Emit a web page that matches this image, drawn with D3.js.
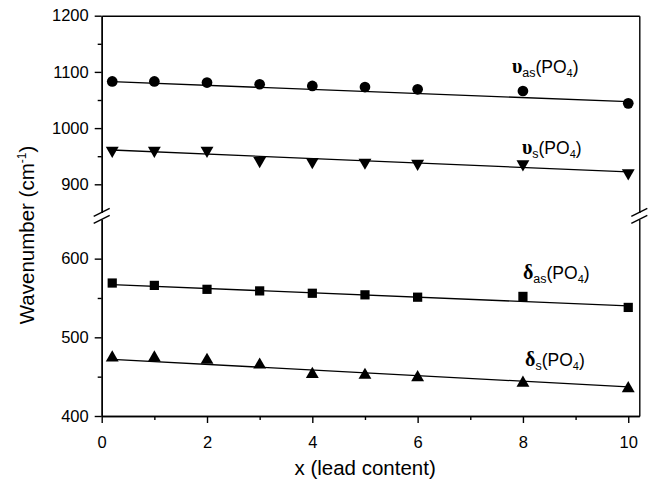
<!DOCTYPE html>
<html lang="en">
<head>
<meta charset="UTF-8">
<title>Wavenumber vs lead content</title>
<script src="https://d3js.org/d3.v7.min.js"></script>
<style>
  body { margin: 0; background: #fff; }
  svg text { font-family: "Liberation Sans", Arial, sans-serif; fill: #000; }
  .axis path, .axis line { stroke: #000; stroke-width: 1.4; }
</style>
</head>
<body>
<div id="chart"></div>
<script>
// lead content values (x)
var leadX = [0.2, 1, 2, 3, 4, 5, 6, 8, 10];

// band positions, cm-1
var nuAs = [1083, 1083, 1081, 1078, 1075, 1073, 1069, 1066, 1044];
var nuS = [960, 960, 960, 942, 940, 939, 937, 936, 920];
var deltaAs = [569, 566, 561, 559, 556, 554, 551, 552, 538];
var deltaS = [474, 474, 471, 465, 453, 452, 449, 442, 435];

// linear fit lines, value at x = 0.2 and x = 10
var fitStart = [1082.6, 961, 567, 472];
var fitEnd = [1047, 922, 540, 437];

var xTicks = [0, 2, 4, 6, 8, 10];
var xMinor = [1, 3, 5, 7, 9];
var yUpTicks = [900, 1000, 1100, 1200];
var yUpMinor = [950, 1050, 1150];
var yLoTicks = [400, 500, 600];
var yLoMinor = [450, 550];

var W = 652, H = 486;
var plotL = 101.7, plotR = 639.3, plotT = 15.7, plotB = 416;

var svg = d3.select("#chart").append("svg")
    .attr("width", W)
    .attr("height", H);

var x = d3.scaleLinear().domain([0, 10.21]).range([plotL, plotR]);
// broken y axis: two segments
var yUp = d3.scaleLinear().domain([850, 1200]).range([212.4, plotT]);
var yLo = d3.scaleLinear().domain([400, 650]).range([plotB, 219.3]);

function tickText(g) {
    g.selectAll("text")
        .style("font-size", "16.5px")
        .style("font-family", "'Liberation Sans', Arial, sans-serif");
}

// x axis
svg.append("g").attr("class", "axis")
    .attr("transform", "translate(0," + plotB + ")")
    .call(d3.axisBottom(x).tickValues(xTicks).tickSize(7).tickSizeOuter(0).tickPadding(13).tickFormat(d3.format("d")))
    .call(tickText);
svg.append("g").attr("class", "axis")
    .attr("transform", "translate(0," + plotB + ")")
    .call(d3.axisBottom(x).tickValues(xMinor).tickSize(4).tickSizeOuter(0).tickFormat(""));
svg.append("g").attr("class", "axis")
    .attr("transform", "translate(0," + plotT + ")")
    .call(d3.axisTop(x).tickValues([]).tickSizeOuter(0));

// left axis, both segments
[[yUp, yUpTicks, yUpMinor], [yLo, yLoTicks, yLoMinor]].forEach(function(s) {
    svg.append("g").attr("class", "axis")
        .attr("transform", "translate(" + plotL + ",0)")
        .call(d3.axisLeft(s[0]).tickValues(s[1]).tickSize(7).tickSizeOuter(0).tickPadding(6).tickFormat(d3.format("d")))
        .call(tickText);
    svg.append("g").attr("class", "axis")
        .attr("transform", "translate(" + plotL + ",0)")
        .call(d3.axisLeft(s[0]).tickValues(s[2]).tickSize(4).tickSizeOuter(0).tickFormat(""));
    svg.append("g").attr("class", "axis")
        .attr("transform", "translate(" + plotR + ",0)")
        .call(d3.axisRight(s[0]).tickValues([]).tickSizeOuter(0));
});

// break marks
[plotL, plotR].forEach(function(bx) {
    [yUp(850), yLo(650)].forEach(function(by) {
        svg.append("line")
            .attr("x1", bx - 8).attr("y1", by + 4)
            .attr("x2", bx + 8).attr("y2", by - 4)
            .attr("stroke", "#000").attr("stroke-width", 1.4);
    });
});

var series = [
    { vals: nuAs, y: yUp, sym: d3.symbolCircle, size: 90, rot: 0 },
    { vals: nuS, y: yUp, sym: d3.symbolTriangle, size: 72, rot: 180 },
    { vals: deltaAs, y: yLo, sym: d3.symbolSquare, size: 85, rot: 0 },
    { vals: deltaS, y: yLo, sym: d3.symbolTriangle, size: 72, rot: 0 }
];

series.forEach(function(s, i) {
    svg.append("line")
        .attr("x1", x(leadX[0])).attr("y1", s.y(fitStart[i]))
        .attr("x2", x(leadX[leadX.length - 1])).attr("y2", s.y(fitEnd[i]))
        .attr("stroke", "#000").attr("stroke-width", 1.3);

    svg.append("g").selectAll("path")
        .data(s.vals)
        .enter().append("path")
        .attr("d", d3.symbol().type(s.sym).size(s.size))
        .attr("transform", function(d, j) {
            return "translate(" + x(leadX[j]) + "," + s.y(d) + ") rotate(" + s.rot + ")";
        })
        .attr("fill", "#000");
});

// band labels
function bandLabel(px, py, greek, sub) {
    var t = svg.append("text").attr("x", px).attr("y", py).style("font-size", "17.5px");
    t.append("tspan").text(greek)
        .style("font-family", "'Liberation Serif', 'Times New Roman', serif")
        .style("font-weight", "bold").style("font-size", "20px");
    t.append("tspan").text(sub).attr("dy", 4).style("font-size", "12.5px");
    t.append("tspan").text("(PO").attr("dy", -4);
    t.append("tspan").text("4").attr("dy", 4).style("font-size", "11px");
    t.append("tspan").text(")").attr("dy", -4);
}
bandLabel(x(7.79), yUp(1097.5), "\u03c5", "as");
bandLabel(x(7.98), yUp(954.8), "\u03c5", "s");
bandLabel(x(8.0), yLo(573.7), "\u03b4", "as");
bandLabel(x(8.04), yLo(463.5), "\u03b4", "s");

// axis titles
svg.append("text")
    .attr("x", (plotL + 628.5) / 2).attr("y", 475)
    .attr("text-anchor", "middle")
    .style("font-size", "20.5px")
    .text("x (lead content)");

var yt = svg.append("text")
    .attr("transform", "translate(34,235) rotate(-90)")
    .attr("text-anchor", "middle")
    .style("font-size", "20.5px");
yt.append("tspan").text("Wavenumber (cm");
yt.append("tspan").text("-1").attr("dy", -8).style("font-size", "12px");
yt.append("tspan").text(")").attr("dy", 8);
</script>
</body>
</html>
